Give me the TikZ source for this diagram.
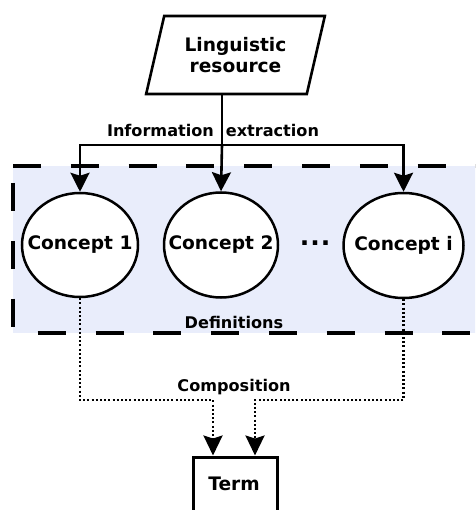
\documentclass[tikz,border=0pt]{standalone}
\usepackage{fontspec}
\setmainfont{DejaVu Sans}
\usetikzlibrary{shapes.geometric,arrows.meta}
\definecolor{deffill}{RGB}{233,237,251}
\tikzset{
  nodetext/.style={font=\fontsize{18.6}{22}\selectfont\bfseries},
  labeltext/.style={font=\fontsize{16.1}{19}\selectfont\bfseries, inner sep=0pt},
  concept/.style={ellipse, draw, line width=2.5pt, fill=white, inner sep=0pt, nodetext},
  solidarrow/.style={line width=2.6pt, -{Stealth[length=19pt,width=19pt,inset=3pt]}},
  dotarrow/.style={line width=2.6pt, dash pattern=on 2pt off 2.2pt, -{Stealth[length=20pt,width=19pt,inset=3pt]}},
  frame/.style={line width=3.4pt, dash pattern=on 28pt off 29.8pt},
}
\begin{document}
\begin{tikzpicture}[x=1pt,y=-1pt]
\useasboundingbox (0,0) rectangle (475,510);
\clip (0,0) rectangle (475,510);
\fill[white] (0,0) rectangle (475,510);
% definitions frame
\fill[deffill] (13,166) rectangle (490,333);
\draw[frame] (13,166) -- (490,166);
\draw[frame] (13,183) -- (13,333);
\draw[frame] (37.7,333) -- (490,333);
% nodes
\node[trapezium, trapezium left angle=70, trapezium right angle=110, trapezium stretches=true,
      draw, line width=2.6pt, minimum width=179pt, minimum height=78pt, inner sep=0pt,
      align=center, nodetext] (lr) at (235.5,55) {Linguistic\\[-1pt]resource};
\node[concept, minimum width=116pt, minimum height=104pt] (c1) at (80,245) {\makebox[0pt]{Concept 1}};
\node[concept, minimum width=114pt, minimum height=105pt] (c2) at (221,245) {\makebox[0pt]{Concept 2}};
\node[concept, minimum width=120pt, minimum height=105pt] (c3) at (403.5,245.5) {\makebox[0pt]{Concept i}};
\node[font=\fontsize{25}{25}\selectfont\bfseries, inner sep=0pt, anchor=base] (dots) at (315,245.5) {.\hspace{1pt}.\hspace{1pt}.};
\node[draw, line width=3pt, fill=white, minimum width=84pt, minimum height=60pt, nodetext] (t) at (235,487) {};
\node[nodetext, inner sep=0pt] (tl) at (234,484) {Term};
% labels
\node[labeltext] (ie) at (213,130) {Information\hspace{12pt}extraction};
\node[labeltext] (df) at (234,322) {Definitions};
\node[labeltext] (cp) at (234,387) {Composition};
% connectors
\coordinate (split) at (222,145);
\coordinate (m1) at (213,400);
\coordinate (m2) at (255,400);
\draw[line width=2.6pt] (split |- lr.south) -- (split);
\draw[solidarrow] (split) -| (c1.north);
\draw[solidarrow] (split) -- (c2.north);
\draw[solidarrow] (split) -| (c3.north);
\draw[dotarrow] (c1.south) |- (m1) -- (m1 |- t.north);
\draw[dotarrow] (c3.south) |- (m2) -- (m2 |- t.north);
\end{tikzpicture}
\end{document}
